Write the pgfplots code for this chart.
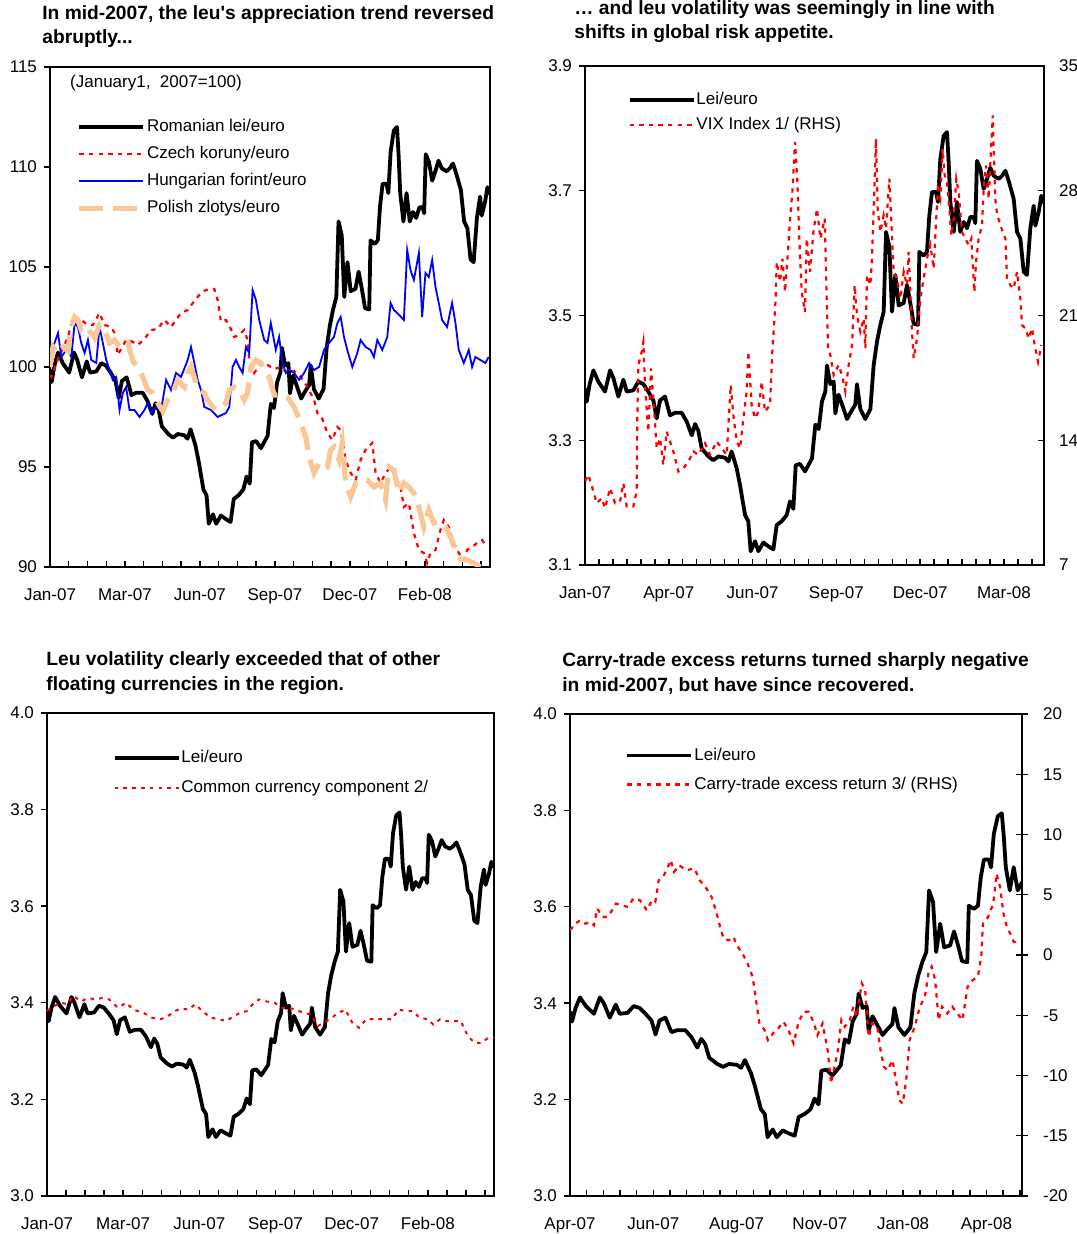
\documentclass[border=0pt]{standalone}
\usepackage{fontspec}
\setmainfont{Liberation Sans}
\usepackage{pgfplots}
\usepackage{pgfplotstable}
\pgfplotsset{compat=1.18}

\definecolor{czred}{RGB}{255,0,0}
\definecolor{hublue}{RGB}{0,0,255}
\definecolor{plpeach}{RGB}{250,200,150}

% x = days since 1 Jan 2007
\pgfplotstableread{
day lei
0 3.383
1.8 3.362
5 3.390
9.0 3.412
14.3 3.394
21.5 3.378
26.9 3.412
30.4 3.400
35.8 3.370
41.2 3.397
44.8 3.378
51.9 3.380
57.3 3.394
62.7 3.390
68.0 3.378
73.4 3.364
77.0 3.335
80.6 3.364
85.9 3.370
91.3 3.340
96.7 3.344
103.8 3.344
109.2 3.330
114.6 3.308
118.2 3.326
121.7 3.315
125.3 3.287
132.5 3.274
137.8 3.268
143.2 3.274
150.4 3.272
154.0 3.266
157.5 3.282
162.9 3.255
166.5 3.228
171.9 3.180
175.4 3.170
177.9 3.122
182.6 3.138
186.2 3.122
191.5 3.136
196.9 3.130
202.3 3.125
205.9 3.164
211.2 3.170
216.6 3.180
220.2 3.202
223.8 3.190
226.3 3.260
230.9 3.262
236.3 3.250
240.6 3.262
243.8 3.271
247.4 3.325
251.0 3.318
254.5 3.362
258.1 3.378
259.9 3.420
263.5 3.390
267.1 3.394
268.9 3.343
272.4 3.373
277.8 3.350
281.4 3.334
285.0 3.344
290.3 3.357
292.1 3.390
295.7 3.350
301.1 3.334
306.5 3.350
310.0 3.420
313.6 3.458
317.2 3.485
320.8 3.506
323.3 3.634
326.9 3.610
329.7 3.506
333.3 3.565
336.9 3.516
342.3 3.520
345.8 3.549
349.4 3.520
353.0 3.487
357.7 3.485
359.1 3.602
363.7 3.596
367.3 3.602
369.8 3.660
372.7 3.698
377.0 3.698
379.1 3.682
381.6 3.751
385.2 3.788
388.8 3.794
390.6 3.746
392.4 3.682
396.0 3.634
399.5 3.682
403.1 3.634
406.7 3.650
410.3 3.640
413.9 3.658
417.4 3.658
419.2 3.648
421.0 3.748
424.6 3.735
428.2 3.703
431.8 3.719
435.3 3.737
438.9 3.724
444.3 3.719
447.9 3.724
451.5 3.732
455.0 3.716
460.4 3.687
464.0 3.634
467.6 3.623
471.2 3.570
474.7 3.565
478.3 3.640
481.9 3.676
483.7 3.644
487.3 3.666
490.1 3.692
493 3.680
}\leitab

\pgfplotstableread{
day val
0 99.6
1.5 99.5
9.0 100.4
20.1 101.5
25.7 102.5
35.0 102.35
42.5 102.1
48.1 102.1
55.5 102.7
61.1 102.1
68.6 102.0
72.3 101.7
76.0 100.6
79.7 100.9
85.3 101.35
90.9 101.3
98.4 101.1
105.8 101.4
113.3 101.85
120.7 101.9
128.2 102.35
135.6 102.0
141.2 102.35
146.8 102.7
154.3 102.85
161.7 103.3
169.2 103.7
174.8 103.85
180.4 103.9
184.1 103.9
187.8 103.35
191.5 102.27
197.1 102.35
202.7 101.9
206.4 101.5
212.0 101.6
217.6 101.85
221.3 101.35
223.2 100.35
228.8 99.7
236.3 100.2
243.7 100.1
251.2 99.9
258.6 100.0
266.1 99.7
273.5 99.8
281.0 99.5
288.4 99.0
295.9 98.35
299.6 97.7
305.2 97.4
310.8 96.7
316.4 96.35
322.0 97.0
325.7 96.85
331.3 95.35
336.9 94.7
342.5 94.35
348.0 95.35
353.6 95.85
361.1 96.2
364.8 94.7
370.4 94.2
376.0 94.7
381.6 95.0
387.2 94.5
392.8 94.0
396.5 93.0
402.1 93.2
407.7 91.7
413.3 90.85
418.8 90.7
422.6 90.2
426.3 90.7
431.9 90.85
437.5 91.85
441.2 92.35
446.8 92.0
452.4 91.2
458.0 90.7
463.6 90.35
467.3 90.85
472.9 91.0
478.5 91.2
484.1 91.35
489.6 91.0
}\czktab

\pgfplotstableread{
day val
0 100.0
3.4 101.0
9.0 101.7
12.7 100.5
18.3 100.85
23.9 100.5
27.6 102.2
31.3 102.0
35.0 101.2
38.8 100.7
42.5 101.35
46.2 100.35
51.8 100.2
55.5 102.0
59.2 101.2
63.0 100.35
66.7 99.85
70.4 99.35
74.2 99.5
77.9 97.85
81.6 98.7
85.3 99.0
89.1 97.85
94.6 97.85
100.3 97.5
105.8 97.85
109.6 98.2
113.3 97.7
118.9 98.0
124.5 97.85
130.1 99.35
135.6 98.85
141.2 99.7
146.8 99.5
154.3 100.35
158.0 101.0
161.7 100.2
165.5 99.35
169.2 98.85
172.9 98.0
180.4 97.85
187.8 97.5
197.1 97.7
200.9 98.0
204.6 100.0
208.3 100.35
212.0 100.0
215.8 99.7
219.5 101.0
223.2 100.7
227.0 103.85
230.7 103.35
234.4 102.35
240.0 101.35
243.7 101.2
247.4 102.2
253.0 100.85
256.7 101.5
260.5 100.2
264.2 99.7
267.9 99.85
273.5 99.7
279.1 99.35
284.7 99.7
290.3 100.2
295.9 99.85
301.5 100.0
307.0 100.85
312.6 101.2
318.2 101.5
322.0 102.2
325.7 102.5
329.4 101.5
333.1 100.85
338.7 100.0
344.3 100.7
348.0 101.35
353.6 101.0
359.2 100.85
362.9 100.5
366.7 101.35
372.3 100.85
377.9 101.5
381.6 103.2
385.3 102.85
389.0 102.7
396.5 102.35
400.2 105.85
403.9 104.85
407.7 104.35
413.3 105.7
417.0 102.5
420.7 104.7
424.4 104.5
428.2 105.35
431.9 104.0
435.6 103.2
439.3 102.35
444.9 102.0
450.5 103.2
454.3 102.2
458.0 100.85
463.6 100.2
469.2 100.85
472.9 100.0
476.6 100.5
482.2 100.35
487.8 100.2
491.5 100.5
}\hufTab

\pgfplotstableread{
day val
0 100.0
3.4 101.0
9.0 100.7
14.5 101.0
20.1 100.8
23.8 102.0
27.6 102.5
31.3 102.35
35.0 101.85
40.6 102.0
46.2 101.7
50.0 101.45
55.5 102.1
61.1 101.85
66.7 101.2
72.3 101.35
77.9 101.0
83.5 101.1
87.2 101.2
92.8 100.3
98.4 100.0
104.0 99.5
109.6 98.85
115.1 98.7
120.7 98.2
126.3 97.8
131.9 98.35
137.5 98.7
143.1 99.35
150.5 99.0
154.3 99.7
158.0 100.0
163.6 99.2
167.3 98.85
172.9 98.7
176.6 98.35
182.2 98.0
186.0 97.85
191.5 98.0
197.1 98.2
200.9 98.85
206.4 99.0
212.0 98.9
217.6 98.35
221.3 98.7
225.1 100.0
230.7 100.35
236.3 100.2
241.8 99.7
245.6 99.5
251.2 98.6
258.6 98.6
266.1 98.5
273.5 98.0
281.0 97.2
286.6 96.5
290.3 95.5
295.9 94.7
301.5 95.2
305.2 95.0
310.8 95.0
314.5 95.85
318.2 96.0
323.8 95.35
327.5 96.2
331.3 94.2
336.9 93.5
342.5 94.2
349.9 94.35
355.5 94.35
363.0 94.0
370.4 94.2
376.0 93.35
379.7 95.0
385.3 94.85
390.9 93.7
396.5 94.2
402.1 94.0
407.7 93.7
413.3 93.0
418.8 92.0
424.4 92.85
430.0 92.2
437.5 92.27
443.1 92.0
448.7 91.5
454.3 90.85
459.8 90.4
467.3 90.35
474.7 90.2
482.2 90.0
489.6 89.85
}\plnTab

\pgfplotstableread{
day vix
0 11.7
3.6 12.06
9.0 11.13
12.5 10.47
17.9 10.75
21.5 10.19
26.9 11.31
32.2 10.47
37.6 10.56
41.2 11.59
44.8 10.28
51.9 10.28
55.5 11.13
56.2 15.42
57.3 18.22
60.9 18.97
62.7 19.52
64.4 17.1
68.0 14.49
70.9 18.03
73.4 16.35
77.0 13.55
80.6 14.11
84.1 12.62
87.7 14.49
91.3 13.93
94.9 13.37
100.3 12.24
105.6 12.43
111.0 12.8
116.4 13.37
121.7 13.18
128.9 13.83
134.3 13.18
141.4 13.93
146.8 13.55
152.2 13.18
156.5 17.1
159.3 15.42
162.9 13.93
166.5 13.55
170.1 15.23
173.6 16.72
175.4 18.97
179.0 15.98
182.6 15.23
186.2 15.6
189.8 17.29
193.3 15.6
198.7 15.98
201.2 18.97
204.8 21.95
205.9 24.01
209.5 22.89
212.0 24.19
214.8 22.32
217.7 24.38
220.2 26.43
222.7 27.93
225.6 30.73
228.1 28.49
230.2 25.31
232.7 22.32
236.3 21.2
238.1 25.31
241.7 23.45
245.3 25.69
249.2 26.99
252.8 25.31
257.4 26.43
258.8 23.45
261.0 19.15
263.5 18.78
267.1 17.66
272.4 18.22
276.0 17.66
279.6 16.72
283.2 18.22
286.8 19.34
289.6 22.7
292.1 21.02
295.7 20.09
299.3 20.83
301.1 19.15
302.9 23.26
306.5 22.7
308.2 24.19
310.8 28.11
312.5 30.91
314.3 26.99
317.2 25.69
320.8 26.62
323.3 25.87
326.9 28.67
328.7 26.62
331.5 23.45
335.1 23.07
338.7 21.95
342.3 23.45
345.8 22.7
347.6 24.57
351.2 20.09
353.0 18.59
356.6 19.71
360.2 21.95
363.7 23.07
367.3 24.19
370.9 24.94
374.5 23.63
377.0 26.25
379.1 28.11
381.6 27.55
384.1 30.35
386.3 28.86
388.8 28.49
391.3 26.99
393.5 25.5
396.0 26.43
398.8 28.67
401.3 27.93
404.9 25.69
408.5 25.31
412.1 24.94
414.9 25.31
418.2 22.32
420.0 24.01
422.8 25.31
426.4 26.06
428.2 28.11
430.7 29.42
433.6 27.55
436.1 30.35
437.9 32.22
439.3 29.79
440.7 27.55
442.5 26.71
446.1 26.06
451.5 25.31
453.3 23.07
456.8 22.7
460.4 22.51
464.0 23.45
467.6 21.95
469.4 20.46
473.0 20.28
476.5 19.71
480.1 20.28
483.0 19.34
486.6 18.4
490.1 19.34
}\vixTab

\pgfplotstableread{
day val
0 3.383
7.6 3.393
15.2 3.400
22.8 3.397
28.5 3.414
38.0 3.403
45.6 3.410
53.3 3.407
60.9 3.410
68.5 3.407
78.0 3.390
87.5 3.400
95.1 3.386
106.5 3.379
116.0 3.369
125.5 3.366
133.1 3.372
140.7 3.383
148.4 3.388
156.0 3.386
163.6 3.397
171.2 3.383
180.7 3.369
190.2 3.366
197.8 3.362
205.4 3.372
213.0 3.379
220.6 3.383
228.2 3.400
234.0 3.407
241.6 3.403
251.1 3.400
258.7 3.390
266.3 3.390
273.9 3.386
283.4 3.379
291.0 3.376
298.6 3.352
306.2 3.359
313.8 3.369
321.4 3.379
329.0 3.386
336.7 3.359
344.3 3.348
351.9 3.366
361.4 3.366
370.9 3.366
380.4 3.366
388.0 3.386
395.6 3.383
403.2 3.383
410.8 3.369
420.3 3.366
426.0 3.355
433.7 3.366
441.3 3.362
448.9 3.362
456.5 3.362
464.1 3.331
471.7 3.317
479.3 3.317
486.9 3.328
493 3.328
}\ccTab

\pgfplotstableread{
day ret
0 2.05
4.6 2.6
9.2 2.88
13.8 2.6
18.4 2.74
21.5 2.47
24.6 3.85
29.2 3.16
33.8 3.16
36.9 3.57
41.5 4.27
46.1 4.13
52.2 3.99
56.9 4.68
63.0 4.54
69.1 3.71
73.8 4.54
76.8 4.4
79.9 6.2
84.5 6.62
87.6 7.17
90.7 7.87
93.7 6.9
98.3 7.45
104.5 7.04
112.2 7.17
116.8 6.2
122.9 5.51
127.5 4.82
132.1 3.43
135.2 2.33
138.3 1.36
142.9 1.22
147.5 1.5
149.0 0.97
155.2 0.14
159.8 -0.69
164.4 -1.8
167.5 -3.74
170.6 -5.68
175.2 -6.23
178.2 -7.06
182.8 -6.51
187.5 -6.09
192.1 -5.54
196.7 -6.23
201.3 -7.34
205.9 -5.54
210.5 -4.71
215.1 -4.71
219.7 -5.68
222.8 -6.65
227.4 -5.68
232.0 -7.89
235.1 -10.66
238.2 -9.28
241.2 -7.89
244.3 -5.4
247.4 -5.96
252.0 -5.4
255.1 -4.29
258.1 -5.12
262.7 -2.35
265.8 -2.91
268.9 -6.79
272.0 -5.68
276.6 -5.96
279.6 -7.89
282.7 -9.28
285.8 -9.56
290.4 -8.73
293.5 -10.39
296.5 -12.05
299.6 -12.33
302.7 -10.39
305.8 -7.06
310.4 -5.96
315.0 -4.29
319.6 -3.46
322.7 -1.52
325.7 -0.97
328.8 -2.08
331.9 -5.4
335.0 -4.29
339.6 -4.85
344.2 -4.29
348.8 -4.85
353.4 -5.4
358.0 -2.63
362.6 -2.08
367.2 -1.8
370.3 -0.14
371.8 2.6
376.4 3.16
381.1 4.27
384.1 6.76
387.2 5.65
390.3 3.43
393.3 2.33
396.4 1.77
399.5 1.1
404.1 0.97
}\carryTab

\pgfplotsset{
  panel/.style={
    scale only axis,
    anchor=south west,
    axis line style={line width=1pt},
    tick align=inside,
    every tick/.style={black, line width=0.7pt},
    major tick length=3pt, minor tick length=3pt,
    xtick pos=bottom,
    tick label style={font=\fontsize{8.5}{10}\selectfont},
    xticklabel style={yshift=-6.5pt, text height=6.5pt, text depth=1.8pt},
    /pgf/number format/assume math mode=true,
    legend cell align=left,
    legend style={draw=none, fill=none, inner sep=0pt,
      font=\fontsize{8.5}{10}\selectfont,
      nodes={inner sep=0pt, text height=6.5pt, text depth=1.8pt},
      column sep=0.5pt, anchor=north west},
    legend image code/.code={\draw[##1] (0pt,0pt) -- (32pt,0pt);},
  },
  lefty/.style={ytick pos=left, y tick style={xshift=-3pt},
    yticklabel style={xshift=-3pt}},
  lei/.style={black, line width=1.9pt, line join=round},
  reddot/.style={czred, line width=1.1pt, dash pattern=on 2.2pt off 2.6pt},
}

\newcommand{\ttl}{\fontsize{9.6}{11}\selectfont\bfseries}

\begin{document}
\begin{tikzpicture}
\path[use as bounding box] (0,0) rectangle (538pt,617pt);

% ---------- top left
\node[anchor=base west, inner sep=0, font=\ttl] at (21pt,607pt) {In mid-2007, the leu\textquotesingle s appreciation trend reversed};
\node[anchor=base west, inner sep=0, font=\ttl] at (21pt,595pt) {abruptly...};
\begin{axis}[panel, lefty, at={(25pt,333.5pt)}, width=220pt, height=250pt,
  xmin=0, xmax=493, ymin=90, ymax=115, ytick={90,95,...,115},
  xtick={0,84,...,420}, xticklabels={Jan-07,Mar-07,Jun-07,Sep-07,Dec-07,Feb-08},
  minor xtick={21,42,...,483},
  legend style={at={(rel axis cs:0.060,0.897)}, row sep=5.2pt}]
\addplot[lei] table[x=day, y expr=\thisrow{lei}*29.52] {\leitab};
\addlegendentry{Romanian lei/euro}
\addplot[reddot] table[x=day, y=val] {\czktab};
\addlegendentry{Czech koruny/euro}
\addplot[hublue, line width=0.9pt] table[x=day, y=val] {\hufTab};
\addlegendentry{Hungarian forint/euro}
\addplot[plpeach, line width=2.6pt, dash pattern=on 12pt off 5pt] table[x=day, y=val] {\plnTab};
\addlegendentry{Polish zlotys/euro}
\node[anchor=west, font=\fontsize{8.5}{10}\selectfont, inner sep=0] at (rel axis cs:0.045,0.968) {(January1,\ \ 2007=100)};
\end{axis}

% ---------- top right
\node[anchor=base west, inner sep=0, font=\ttl] at (287pt,609.5pt) {… and leu volatility was seemingly in line with};
\node[anchor=base west, inner sep=0, font=\ttl] at (287pt,597.5pt) {shifts in global risk appetite.};
\begin{axis}[panel, lefty, at={(292.5pt,334.5pt)}, width=229.5pt, height=249.5pt,
  xmin=0, xmax=493, ymin=3.1, ymax=3.9, ytick={3.1,3.3,...,3.9},
  yticklabel style={/pgf/number format/.cd, fixed, fixed zerofill, precision=1},
  xtick={0,90,...,450}, xticklabels={Jan-07,Apr-07,Jun-07,Sep-07,Dec-07,Mar-08},
  minor xtick={15,30,...,480},
  legend style={at={(rel axis cs:0.092,0.950)}, row sep=4.2pt}]
\addplot[lei] table[x=day, y=lei] {\leitab};
\addlegendentry{Lei/euro}
\addlegendimage{reddot}
\addlegendentry{VIX Index 1/ (RHS)}
\end{axis}
\begin{axis}[panel, at={(292.5pt,334.5pt)}, width=229.5pt, height=249.5pt,
  xmin=0, xmax=493, ymin=7, ymax=35, ytick={7,14,...,35},
  hide x axis, axis y line*=right, ytick pos=right,
  yticklabel style={anchor=west, xshift=4pt}]
\addplot[reddot] table[x=day, y=vix] {\vixTab};
\end{axis}

% ---------- bottom left
\node[anchor=base west, inner sep=0, font=\ttl] at (23pt,284pt) {Leu volatility clearly exceeded that of other};
\node[anchor=base west, inner sep=0, font=\ttl] at (23pt,271.5pt) {floating currencies in the region.};
\begin{axis}[panel, lefty, at={(23.5pt,19pt)}, width=223.5pt, height=241.5pt,
  xmin=0, xmax=493, ymin=3.0, ymax=4.0, ytick={3.0,3.2,...,4.0},
  yticklabel style={/pgf/number format/.cd, fixed, fixed zerofill, precision=1},
  xtick={0,84,...,420}, xticklabels={Jan-07,Mar-07,Jun-07,Sep-07,Dec-07,Feb-08},
  minor xtick={21,42,...,483},
  legend style={at={(rel axis cs:0.146,0.925)}, row sep=6.7pt}]
\addplot[lei] table[x=day, y=lei] {\leitab};
\addlegendentry{Lei/euro}
\addplot[reddot, line width=1pt, dash pattern=on 1.8pt off 2.6pt] table[x=day, y=val] {\ccTab};
\addlegendentry{Common currency component 2/}
\end{axis}

% ---------- bottom right
\node[anchor=base west, inner sep=0, font=\ttl] at (281pt,283.5pt) {Carry-trade excess returns turned sharply negative};
\node[anchor=base west, inner sep=0, font=\ttl] at (281pt,271pt) {in mid-2007, but have since recovered.};
\begin{axis}[panel, lefty, at={(285pt,19pt)}, width=226pt, height=241pt,
  xmin=0, xmax=407, ymin=3.0, ymax=4.0, ytick={3.0,3.2,...,4.0},
  yticklabel style={/pgf/number format/.cd, fixed, fixed zerofill, precision=1},
  xtick={0,75,...,375}, xticklabels={Apr-07,Jun-07,Aug-07,Nov-07,Jan-08,Apr-08},
  minor xtick={15,30,...,405},
  legend style={at={(rel axis cs:0.122,0.932)}, row sep=6.2pt}]
\addplot[lei] table[x=day, y=lei] {\leitab};
\addlegendentry{Lei/euro}
\addlegendimage{reddot}
\addlegendentry{Carry-trade excess return 3/ (RHS)}
\end{axis}
\begin{axis}[panel, at={(285pt,19pt)}, width=226pt, height=241pt,
  xmin=0, xmax=407, ymin=-20, ymax=20, ytick={-20,-15,...,20},
  hide x axis, axis y line*=right, ytick pos=right, tick align=center,
  major tick length=6pt,
  yticklabel style={anchor=west, xshift=4pt}]
\addplot[reddot] table[x=day, y=ret] {\carryTab};
\end{axis}
\end{tikzpicture}
\end{document}
